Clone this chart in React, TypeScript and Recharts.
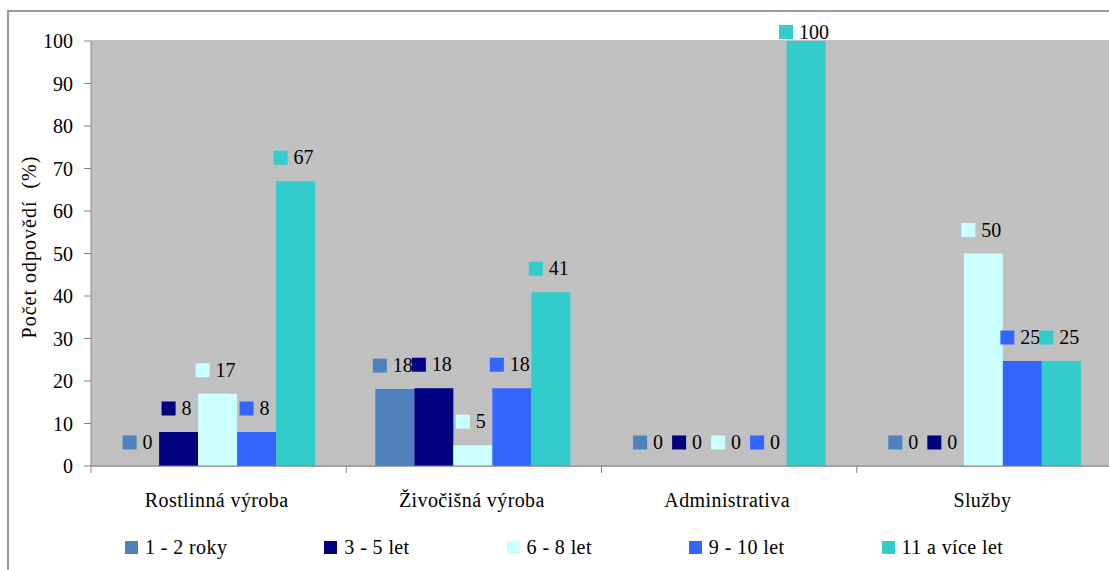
import { BarChart, Bar, XAxis, YAxis, CartesianGrid, LabelList } from "recharts";

const categories = ["Rostlinná výroba", "Živočišná výroba", "Administrativa", "Služby"];
const seriesNames = ["1 - 2 roky", "3 - 5 let", "6 - 8 let", "9 - 10 let", "11 a více let"];
const seriesColors = ["#4F81BD", "#000080", "#CCFFFF", "#3366FF", "#33CCCC"];
const roky1to2 = [0, 18.1, 0, 0];
const let3to5 = [8, 18.3, 0, 0];
const let6to8 = [17, 4.9, 0, 50];
const let9to10 = [8, 18.3, 0, 24.7];
const let11plus = [67, 40.9, 100, 24.7];
const yTicks = [0, 10, 20, 30, 40, 50, 60, 70, 80, 90, 100];

const seriesValues = [roky1to2, let3to5, let6to8, let9to10, let11plus];
const keys = ["s0", "s1", "s2", "s3", "s4"];

const data = categories.map((name, i) => {
  const row: Record<string, string | number> = { name };
  seriesValues.forEach((vals, s) => {
    row[keys[s]] = vals[i];
  });
  return row;
});

const FONT = '"Liberation Serif", "Times New Roman", serif';
const W = 1109;
const H = 570;
const CHART_W = 1112;
const PLOT_LEFT = 91;
const PLOT_TOP = 41;
const PLOT_BOTTOM = 466;
const BAND = (CHART_W - PLOT_LEFT) / categories.length;

const makeLabel = (color: string) => (props: any) => {
  const { x, y, width, value } = props;
  const text = String(Math.round(Number(value)));
  const textW = text.length * 10;
  const sq = 14;
  const gap = 6;
  const group = sq + gap + textW;
  const cx = Number(x) + Number(width) / 2 - 2;
  const start = cx - group / 2;
  const cy = Math.max(Number(y) - 23.5, 32);
  return (
    <g>
      <rect x={start} y={cy - sq / 2} width={sq} height={sq} fill={color} />
      <text x={start + sq + gap} y={cy + 6.5} fontSize={20} fontFamily={FONT} fill="#000">
        {text}
      </text>
    </g>
  );
};

// zero-height bars are dropped unless they get a tiny point size; keeps their "0" labels
const zeroPointSize = (value: any) => (Number(value) === 0 ? 0.01 : 0);

const CategoryTick = (props: any) => {
  const { x, y, payload, index } = props;
  const left = x - BAND / 2;
  return (
    <g>
      <line x1={left} x2={left} y1={y} y2={y + 7} stroke="#868686" />
      {index === categories.length - 1 && (
        <line x1={x + BAND / 2} x2={x + BAND / 2} y1={y} y2={y + 7} stroke="#868686" />
      )}
      <text
        x={x - 2}
        y={y + 41}
        textAnchor="middle"
        fontSize={20}
        letterSpacing={0.4}
        fontFamily={FONT}
        fill="#000"
      >
        {payload.value}
      </text>
    </g>
  );
};

const YLabel = () => (
  <text
    x={29}
    y={247}
    transform="rotate(-90, 29, 247)"
    textAnchor="middle"
    dominantBaseline="central"
    fontSize={20}
    letterSpacing={1}
    fontFamily={FONT}
    fill="#000"
  >
    {"Počet odpovědí\u00A0 (%)"}
  </text>
);

export default function App() {
  return (
    <div
      style={{
        position: "absolute",
        left: 0,
        top: 0,
        width: W,
        height: H,
        background: "#fff",
        overflow: "hidden",
      }}
    >
      <div
        style={{
          position: "absolute",
          left: 7,
          top: 10,
          width: 1200,
          height: 600,
          borderTop: "2px solid #9a9a9a",
          borderLeft: "2px solid #9a9a9a",
        }}
      />
      <div style={{ position: "absolute", left: 0, top: 0 }}>
        <BarChart
          width={CHART_W}
          height={H}
          data={data}
          margin={{ top: PLOT_TOP, right: 0, left: PLOT_LEFT - 60, bottom: H - PLOT_BOTTOM - 30 }}
          barCategoryGap="11.4%"
          barGap={0}
        >
          <rect
            x={PLOT_LEFT}
            y={PLOT_TOP}
            width={CHART_W - PLOT_LEFT}
            height={PLOT_BOTTOM - PLOT_TOP}
            fill="#C0C0C0"
          />
          <CartesianGrid vertical={false} stroke="#868686" />
          <XAxis
            dataKey="name"
            height={30}
            stroke="#868686"
            tickLine={false}
            tickSize={0}
            tickMargin={0}
            tick={<CategoryTick />}
            interval={0}
          />
          <YAxis
            width={60}
            domain={[0, 100]}
            ticks={yTicks}
            interval={0}
            stroke="#868686"
            tickSize={7}
            tickMargin={11}
            tick={{ fontSize: 20, fontFamily: FONT, fill: "#000" }}
            label={<YLabel />}
          />
          {keys.map((k, s) => (
            <Bar
              key={k}
              dataKey={k}
              name={seriesNames[s]}
              fill={seriesColors[s]}
              minPointSize={zeroPointSize}
              isAnimationActive={false}
            >
              <LabelList dataKey={k} content={makeLabel(seriesColors[s])} />
            </Bar>
          ))}
        </BarChart>
      </div>
      <div
        style={{
          position: "absolute",
          left: 125,
          top: 537,
          display: "flex",
          gap: 97,
          fontFamily: FONT,
          fontSize: 20,
          letterSpacing: 0.4,
          color: "#000",
          lineHeight: "20px",
        }}
      >
        {seriesNames.map((n, s) => (
          <div key={n} style={{ display: "flex", alignItems: "center" }}>
            <span
              style={{
                display: "inline-block",
                width: 13,
                height: 13,
                background: seriesColors[s],
                marginRight: 7,
              }}
            />
            <span>{n}</span>
          </div>
        ))}
      </div>
    </div>
  );
}
